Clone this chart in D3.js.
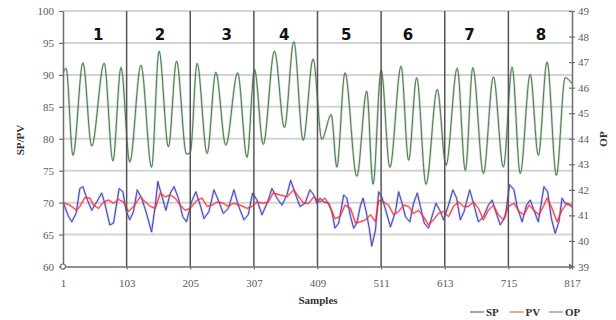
<!DOCTYPE html>
<html><head><meta charset="utf-8">
<script src="https://cdn.jsdelivr.net/npm/d3@7"></script>
<style>body{margin:0;background:#fff}svg{display:block}
.serif{font-family:"Liberation Serif","DejaVu Serif",serif}</style>
</head><body><svg id="c" width="616" height="320"></svg>
<script>
// ---- data ----
const sampleTicks = [1,103,205,307,409,511,613,715,817];
const leftTicks = [60,65,70,75,80,85,90,95,100];
const rightTicks = [39,40,41,42,43,44,45,46,47,48,49];
const segmentLabels = ["1","2","3","4","5","6","7","8"];
const seriesNames = ["SP","PV","OP"];
// [sample, value]
const spPoints = [[1,70.1],[10,67.8],[15,67.0],[22,68.3],[28,72.2],[33,72.5],[39,70.7],[47,68.8],[55,70.1],[63,71.5],[68,69.9],[76,66.5],[82,66.8],[91,72.2],[97,71.7],[102,68.8],[108,67.3],[114,68.6],[120,72.0],[127,70.7],[134,68.6],[143,65.4],[149,69.6],[153,73.3],[159,71.2],[166,68.8],[173,71.5],[179,72.5],[186,70.7],[193,67.8],[199,67.0],[207,70.1],[214,71.7],[221,69.6],[227,67.5],[235,68.6],[243,72.0],[250,70.4],[258,68.3],[266,69.1],[275,72.0],[282,69.6],[291,67.3],[298,68.1],[305,71.5],[312,70.4],[320,68.1],[329,70.1],[336,72.2],[344,70.7],[352,69.6],[360,71.2],[366,73.5],[373,71.5],[381,69.4],[389,69.9],[397,72.0],[403,71.2],[408,69.9],[413,70.7],[419,70.1],[427,69.9],[432,68.6],[437,66.0],[443,66.8],[451,71.2],[456,70.7],[462,67.8],[467,66.0],[472,66.8],[478,69.6],[482,70.7],[487,68.6],[492,66.0],[496,63.2],[502,65.7],[507,71.7],[512,70.9],[519,68.6],[526,66.2],[534,68.6],[539,71.7],[544,70.1],[550,67.8],[557,67.0],[563,69.9],[569,71.5],[574,69.4],[580,66.8],[587,66.0],[594,68.3],[599,69.9],[606,68.6],[611,67.3],[619,69.6],[626,72.0],[632,70.7],[638,67.3],[644,68.6],[653,72.0],[659,69.9],[667,67.0],[675,67.8],[683,69.6],[689,70.4],[694,68.8],[702,66.5],[710,67.8],[717,72.8],[724,72.0],[729,69.4],[737,67.0],[744,69.6],[750,70.4],[756,68.8],[763,67.0],[772,72.5],[778,71.7],[784,67.5],[790,65.2],[796,67.0],[801,70.7],[806,69.9],[813,69.6],[817,69.3]];
const pvPoints = [[1,70.0],[12,69.6],[23,68.8],[28,69.4],[36,70.8],[44,70.7],[50,69.6],[58,69.1],[66,70.1],[74,70.4],[82,69.9],[90,70.5],[98,70.1],[106,68.6],[114,69.4],[125,70.9],[133,70.1],[141,69.4],[149,69.1],[157,71.5],[165,70.9],[173,71.2],[181,70.7],[189,69.6],[197,68.8],[205,69.1],[216,70.4],[224,70.7],[232,69.4],[240,69.6],[248,70.1],[258,69.9],[266,69.4],[274,69.9],[285,69.6],[296,69.1],[304,69.4],[312,70.1],[322,69.9],[330,70.1],[338,71.5],[349,71.2],[360,70.9],[371,72.0],[379,70.9],[387,69.9],[395,69.9],[403,70.9],[413,70.1],[421,70.7],[429,69.4],[437,67.5],[445,67.8],[453,69.6],[462,69.1],[470,66.8],[478,67.0],[486,67.3],[494,68.1],[502,67.0],[507,70.4],[515,70.1],[523,69.6],[531,68.1],[539,68.6],[547,69.6],[555,69.4],[563,68.3],[571,68.8],[579,67.8],[587,66.5],[595,67.3],[603,68.3],[611,68.6],[619,67.8],[627,69.4],[635,70.1],[643,69.4],[651,69.4],[659,70.1],[667,69.1],[675,67.3],[683,68.8],[691,69.6],[699,68.1],[707,67.3],[715,69.4],[724,69.9],[732,68.6],[740,68.1],[748,69.6],[756,68.8],[764,68.1],[772,69.6],[777,70.7],[785,69.1],[793,67.0],[801,68.8],[809,69.9],[817,69.6]];
const opPoints = [[1,46.6],[6,46.75],[17,43.35],[33,46.97],[47,43.71],[67,46.96],[81,43.13],[94,46.79],[108,43.09],[126,46.88],[143,42.88],[155,47.43],[170,43.68],[183,47.04],[199,43.4],[205,43.45],[216,46.95],[232,43.42],[246,46.6],[262,43.75],[281,46.58],[296,43.27],[308,46.71],[322,43.78],[340,47.43],[356,44.44],[371,47.8],[386,43.94],[402,47.12],[416,43.98],[431,44.94],[440,42.89],[453,46.58],[472,42.53],[488,45.86],[498,42.22],[511,46.69],[525,42.88],[543,46.84],[555,43.16],[568,46.39],[583,42.22],[601,45.93],[615,42.96],[633,46.76],[646,42.76],[658,46.78],[675,42.64],[691,46.42],[707,42.89],[721,46.8],[734,42.64],[750,46.52],[763,43.35],[777,47.01],[792,42.57],[806,46.39],[817,46.16]];

// ---- layout ----
const svg = d3.select("#c");
const L = 63, R = 572, T = 11, B = 266.5;
const x = d3.scaleLinear().domain([1,817]).range([L,R]);
const yL = d3.scaleLinear().domain([60,100]).range([B,T]);
const yR = d3.scaleLinear().domain([39,49]).range([B,T]);
const SERIF = '"Liberation Serif","DejaVu Serif",serif';

// horizontal gridlines
svg.append("g").selectAll("line").data(leftTicks.filter(d=>d>60)).join("line")
  .attr("x1",L).attr("x2",R).attr("y1",d=>yL(d)).attr("y2",d=>yL(d))
  .attr("stroke","#d4d4d4").attr("stroke-width",2);

// series
const lineL = d3.line().x(d=>x(d[0])).y(d=>yL(d[1]));
const lineR = d3.line().x(d=>x(d[0])).y(d=>yR(d[1])).curve(d3.curveMonotoneX);
function drawSeries(data, gen, halo, core){
  svg.append("path").datum(data).attr("d",gen).attr("fill","none")
    .attr("stroke",halo).attr("stroke-width",2.4).attr("stroke-linejoin","round");
  svg.append("path").datum(data).attr("d",gen).attr("fill","none")
    .attr("stroke",core).attr("stroke-width",0.9).attr("stroke-linejoin","round");
}
drawSeries(spPoints, lineL, "rgba(100,100,215,0.35)", "#3535b0");
drawSeries(pvPoints, lineL, "rgba(255,80,80,0.35)", "#ff2020");
drawSeries(opPoints, lineR, "rgba(90,140,90,0.32)", "#3f713f");

// vertical separators
svg.append("g").selectAll("line").data(sampleTicks.slice(1,-1)).join("line")
  .attr("x1",d=>x(d)).attr("x2",d=>x(d)).attr("y1",T).attr("y2",B)
  .attr("stroke","#555").attr("stroke-width",1.5);

// segment numbers
svg.append("g").selectAll("text").data(segmentLabels).join("text")
  .attr("x",(d,i)=>(x(sampleTicks[i])+x(sampleTicks[i+1]))/2 + [3.5,1.6,4.7,-1.5,-3,-5,-7,0.8][i])
  .attr("y",39.5).attr("text-anchor","middle")
  .style("font-family","'DejaVu Sans',Verdana,sans-serif").style("font-weight","bold")
  .style("font-size","15px").attr("fill","#111").text(d=>d);

// axes
function styleAxis(g){
  g.attr("font-family",null).attr("font-size",null);
  g.select(".domain").attr("stroke","#6e6e6e").attr("stroke-width",1.5);
  g.selectAll(".tick line").attr("stroke","#6e6e6e").attr("stroke-width",1.2);
  g.selectAll(".tick text").style("font-family",SERIF).style("font-size","11px").attr("fill","#5a5a5a");
}
const gl = svg.append("g").attr("transform",`translate(${L},0)`)
  .call(d3.axisLeft(yL).tickValues(leftTicks).tickSize(4).tickPadding(5).tickSizeOuter(0));
styleAxis(gl);
const gr = svg.append("g").attr("transform",`translate(${R},0)`)
  .call(d3.axisRight(yR).tickValues(rightTicks).tickSize(3).tickPadding(3).tickSizeOuter(0));
styleAxis(gr);
gr.selectAll(".tick line").attr("x1",-3);
const gb = svg.append("g").attr("transform",`translate(0,${B})`)
  .call(d3.axisBottom(x).tickValues(sampleTicks).tickSize(3).tickPadding(10).tickSizeOuter(0));
styleAxis(gb);

// axis end markers
svg.append("circle").attr("cx",L).attr("cy",B).attr("r",2.5)
  .attr("fill","#fff").attr("stroke","#6e6e6e").attr("stroke-width",1.2);
svg.append("path").attr("d",`M${R-3},${B-3}L${R+2},${B}L${R-3},${B+3}Z`).attr("fill","#6e6e6e");

// axis titles
function title(sel){
  return sel.style("font-family",SERIF).style("font-weight","bold").style("font-size","11px").attr("fill","#333");
}
title(svg.append("text").attr("transform","translate(24,140) rotate(-90)").attr("text-anchor","middle")).text("SP/PV");
title(svg.append("text").attr("transform","translate(607,139) rotate(-90)").attr("text-anchor","middle")).text("OP");
title(svg.append("text").attr("x",318).attr("y",304).attr("text-anchor","middle")).text("Samples");

// legend
const legendColors = ["#a0a0e0","#ffa0a0","#a3c3a3"];
const lg = svg.append("g").selectAll("g").data(seriesNames).join("g")
  .attr("transform",(d,i)=>`translate(${470+i*39.5},312)`);
lg.append("line").attr("x1",0).attr("x2",14).attr("stroke",(d,i)=>legendColors[i]).attr("stroke-width",2);
title(lg.append("text").attr("x",16).attr("y",4)).text(d=>d);
</script></body></html>
